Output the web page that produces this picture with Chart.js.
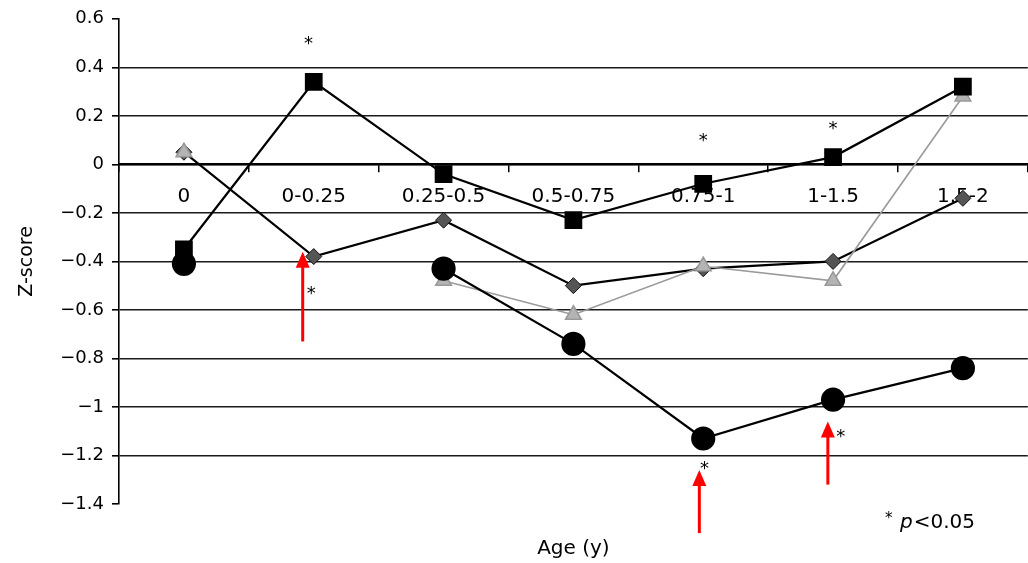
<!DOCTYPE html>
<html lang="en">
<head>
<meta charset="UTF-8">
<title>Z-score by age</title>
<script src="https://cdn.jsdelivr.net/npm/chart.js"></script>
<style>
  html, body { margin: 0; padding: 0; background: #fff; overflow: hidden; }
  /* a little wider than the window so the plot runs to the right edge */
  #wrap { width: 1041px; height: 563px; }
  canvas { display: block; }
</style>
</head>
<body>
<div id="wrap"><canvas id="chart"></canvas></div>
<script>
// age groups (years)
const ageGroups = ['0', '0-0.25', '0.25-0.5', '0.5-0.75', '0.75-1', '1-1.5', '1.5-2'];

// z-scores per group, one array per marker type
const squareSeries   = [-0.35, 0.34, -0.04, -0.23, -0.08, 0.03, 0.32];
const circleSeries   = [-0.41, null, -0.43, -0.74, -1.13, -0.97, -0.84];
const diamondSeries  = [0.05, -0.38, -0.23, -0.50, -0.43, -0.40, -0.14];
const triangleSeries = [0.05, null, -0.48, -0.62, -0.42, -0.48, 0.28];

// significance stars (category index, z-score)
const starX = [0.96, 0.98, 4.0, 5.0, 4.01, 5.06];
const starY = [0.51, -0.52, 0.11, 0.16, -1.24, -1.11];

// red arrows (category index, tail z, head z)
const arrowX = [0.915, 3.97, 4.96];
const arrowTail = [-0.73, -1.52, -1.32];
const arrowHead = [-0.36, -1.26, -1.06];

const FONT = 'DejaVu Sans';

const overlay = {
    id: 'overlay',
    afterDatasetsDraw(chart) {
        const { ctx, scales: { x, y } } = chart;
        ctx.save();

        // asterisks
        ctx.fillStyle = '#000';
        ctx.font = `18px "${FONT}"`;
        ctx.textAlign = 'center';
        ctx.textBaseline = 'alphabetic';
        const m = ctx.measureText('*');
        const shift = (m.actualBoundingBoxAscent - m.actualBoundingBoxDescent) / 2;
        for (let i = 0; i < starX.length; i++) {
            ctx.fillText('*', x.getPixelForValue(starX[i]), y.getPixelForValue(starY[i]) + shift);
        }

        // arrows
        ctx.strokeStyle = '#ff0000';
        ctx.fillStyle = '#ff0000';
        ctx.lineWidth = 3;
        for (let i = 0; i < arrowX.length; i++) {
            const px = x.getPixelForValue(arrowX[i]);
            const y0 = y.getPixelForValue(arrowTail[i]);
            const y1 = y.getPixelForValue(arrowHead[i]);
            ctx.beginPath();
            ctx.moveTo(px, y0);
            ctx.lineTo(px, y1 + 12);
            ctx.stroke();
            ctx.beginPath();
            ctx.moveTo(px, y1);
            ctx.lineTo(px - 7, y1 + 16);
            ctx.lineTo(px + 7, y1 + 16);
            ctx.closePath();
            ctx.fill();
        }

        // note "* p<0.05"
        ctx.fillStyle = '#000';
        ctx.textAlign = 'left';
        ctx.textBaseline = 'middle';
        const nx = 885, ny = 523;
        ctx.font = `15px "${FONT}"`;
        ctx.fillText('*', nx, ny - 4);
        ctx.font = `italic 20px "${FONT}"`;
        ctx.fillText('p', nx + 15, ny);
        const pw = ctx.measureText('p').width;
        ctx.font = `20px "${FONT}"`;
        ctx.fillText('<0.05', nx + 15 + pw + 1, ny);

        ctx.restore();
    }
};

new Chart(document.getElementById('chart'), {
    type: 'line',
    data: {
        labels: ageGroups,
        datasets: [
            {
                data: circleSeries,
                order: 1,
                borderColor: '#000',
                borderWidth: 2.2,
                pointStyle: 'circle',
                pointRadius: 11,
                pointBackgroundColor: '#000',
                pointBorderColor: '#000',
                spanGaps: false
            },
            {
                data: squareSeries,
                order: 2,
                borderColor: '#000',
                borderWidth: 2.2,
                pointStyle: 'rect',
                pointRadius: 11,
                pointBackgroundColor: '#000',
                pointBorderColor: '#000'
            },
            {
                data: triangleSeries,
                order: 3,
                borderColor: '#9a9a9a',
                borderWidth: 1.6,
                pointStyle: 'triangle',
                pointRadius: 9,
                pointBackgroundColor: '#b4b4b4',
                pointBorderColor: '#999',
                spanGaps: false
            },
            {
                data: diamondSeries,
                order: 4,
                borderColor: '#000',
                borderWidth: 2.2,
                pointStyle: 'rectRot',
                pointRadius: 8,
                pointBackgroundColor: '#555',
                pointBorderColor: '#111',
                pointBorderWidth: 1
            }
        ]
    },
    options: {
        responsive: true,
        maintainAspectRatio: false,
        animation: false,
        layout: { padding: { top: 18, right: 0, left: 0, bottom: 0 } },
        elements: { line: { tension: 0 } },
        plugins: {
            legend: { display: false },
            tooltip: { enabled: false },
            title: {
                display: true,
                position: 'bottom',
                fullSize: false,
                text: 'Age (y)',
                color: '#000',
                font: { family: FONT, size: 20, weight: 'normal' },
                padding: { top: 33, bottom: 2 }
            }
        },
        scales: {
            x: {
                type: 'category',
                position: { y: 0 },
                offset: true,
                grid: {
                    offset: true,
                    drawOnChartArea: false,
                    tickLength: 7,
                    tickColor: '#000',
                    lineWidth: 1.5
                },
                border: { display: true, color: '#000', width: 2.2 },
                ticks: {
                    color: '#000',
                    font: { family: FONT, size: 20 },
                    padding: 13,
                    maxRotation: 0,
                    autoSkip: false
                }
            },
            y: {
                min: -1.4,
                max: 0.6,
                afterFit: s => { s.width = 119; },
                ticks: {
                    stepSize: 0.2,
                    color: '#000',
                    font: { family: FONT, size: 18 },
                    padding: 8,
                    callback: v => {
                        const r = Math.round(v * 10) / 10;
                        return r === 0 ? '0' : String(r).replace('-', '\u2212');
                    }
                },
                grid: {
                    color: c => (Math.abs(c.tick.value - 0.6) < 1e-6 || Math.abs(c.tick.value + 1.4) < 1e-6) ? 'rgba(0,0,0,0)' : '#1a1a1a',
                    tickColor: '#000',
                    tickLength: 7,
                    lineWidth: 1.6
                },
                border: { display: true, color: '#000', width: 1.6 },
                title: {
                    display: true,
                    text: 'Z-score',
                    color: '#000',
                    font: { family: FONT, size: 19 },
                    padding: { top: 16, bottom: 0 }
                }
            }
        }
    },
    plugins: [overlay]
});
</script>
</body>
</html>
